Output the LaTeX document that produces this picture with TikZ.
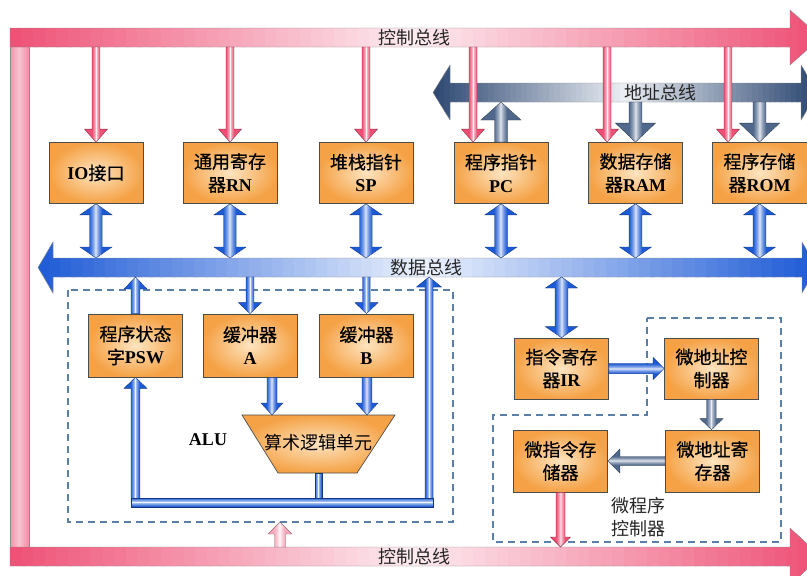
\documentclass[tikz,border=0pt]{standalone}
\usepackage{fontspec}
\setmainfont{Liberation Serif}
\newfontfamily\cjk{Noto Sans CJK SC}
\newfontfamily\cjkb[FakeBold=0.6]{Noto Sans CJK SC}
\usetikzlibrary{calc}
\definecolor{pinkD}{RGB}{238,79,116}
\definecolor{pinkL}{RGB}{253,236,241}
\definecolor{pinkM}{RGB}{246,170,188}
\definecolor{blueD}{RGB}{29,90,213}
\definecolor{blueL}{RGB}{236,242,253}
\definecolor{navyD}{RGB}{43,70,112}
\definecolor{navyM}{RGB}{80,104,140}
\definecolor{navyL}{RGB}{236,239,244}
\definecolor{boxO}{RGB}{245,162,70}
\definecolor{boxI}{RGB}{253,228,192}
\definecolor{dashC}{RGB}{91,127,166}
% local frame from #1 to #2
\newcommand\setframe[2]{%
  \path let \p1=($(#2)-(#1)$), \n1={veclen(\x1,\y1)}, \n2={atan2(\y1,\x1)} in
    \pgfextra{\xdef\arrlen{\n1}\xdef\arrang{\n2}};}
% strips across the local y axis: dark at |y|>=w, light at the centre
\newcommand\stripfill[4]{%
  \pgfmathtruncatemacro\nstr{2*#4+1}%
  \foreach \k in {0,...,\nstr}{%
    \pgfmathsetmacro\ya{-#4-1+\k}%
    \pgfmathsetmacro\tm{min(100,(min(1,abs(\ya+0.5)/#3))^0.7*100)}%
    \fill[#1!\tm!#2] (-1pt,{\ya*1pt}) rectangle ({\arrlen+1pt},{(\ya+1.3)*1pt});
  }}
% single-headed block arrow {dark}{light}{from}{to}{shaft half width}{head half width}{head length}
\newcommand\fatarrow[7]{%
  \setframe{#3}{#4}%
  \begin{scope}[shift={(#3)}, rotate=\arrang]
    \begin{scope}
      \clip (0pt,-#5pt) -- ({\arrlen-#7pt},-#5pt) -- ({\arrlen-#7pt},-#6pt) -- ({\arrlen+0pt},0pt)
        -- ({\arrlen-#7pt},#6pt) -- ({\arrlen-#7pt},#5pt) -- (0pt,#5pt) -- cycle;
      \stripfill{#1}{#2}{#5}{#6}
    \end{scope}
    \draw[#1!60!black, line width=0.4pt, line join=miter] (0pt,-#5pt) -- ({\arrlen-#7pt},-#5pt) -- ({\arrlen-#7pt},-#6pt) -- ({\arrlen+0pt},0pt)
        -- ({\arrlen-#7pt},#6pt) -- ({\arrlen-#7pt},#5pt) -- (0pt,#5pt) -- cycle;
  \end{scope}}
% double-headed block arrow
\newcommand\fatdarrow[7]{%
  \setframe{#3}{#4}%
  \begin{scope}[shift={(#3)}, rotate=\arrang]
    \begin{scope}
      \clip (0pt,0pt) -- (#7pt,-#6pt) -- (#7pt,-#5pt) -- ({\arrlen-#7pt},-#5pt) -- ({\arrlen-#7pt},-#6pt) -- ({\arrlen+0pt},0pt)
        -- ({\arrlen-#7pt},#6pt) -- ({\arrlen-#7pt},#5pt) -- (#7pt,#5pt) -- (#7pt,#6pt) -- cycle;
      \stripfill{#1}{#2}{#5}{#6}
    \end{scope}
    \draw[#1!60!black, line width=0.4pt] (0pt,0pt) -- (#7pt,-#6pt) -- (#7pt,-#5pt) -- ({\arrlen-#7pt},-#5pt) -- ({\arrlen-#7pt},-#6pt) -- ({\arrlen+0pt},0pt)
        -- ({\arrlen-#7pt},#6pt) -- ({\arrlen-#7pt},#5pt) -- (#7pt,#5pt) -- (#7pt,#6pt) -- cycle;
  \end{scope}}
% bar without heads
\newcommand\gradbar[5]{%
  \setframe{#3}{#4}%
  \begin{scope}[shift={(#3)}, rotate=\arrang]
    \begin{scope}
      \clip (0pt,-#5pt) rectangle ({\arrlen+0pt},#5pt);
      \stripfill{#1}{#2}{#5}{#5}
    \end{scope}
    \draw[#1!60!black, line width=0.4pt] (0pt,-#5pt) rectangle ({\arrlen+0pt},#5pt);
  \end{scope}}
% strips along x, light at the centre of [x0,x1]
\newcommand\hstrips[6]{%
  \pgfmathsetmacro\hc{(#3+#4)/2}\pgfmathsetmacro\hh{(#4-#3)/2}\pgfmathsetmacro\hstep{(#4-#3)/70}%
  \foreach \k in {0,...,69}{%
    \pgfmathsetmacro\xa{#3+\k*\hstep}%
    \pgfmathsetmacro\xb{#3+(\k+1.4)*\hstep}%
    \pgfmathsetmacro\tm{min(100,abs((\xa+\xb)/2-\hc)/\hh*100)}%
    \fill[#1!\tm!#2] (\xa,#5) rectangle (\xb,#6);
  }}
% a bus: {dark}{light}{x0}{x1}{y0}{y1}{polygon}
\newcommand\busshape[7]{%
  \begin{scope}
    \clip #7;
    \hstrips{#1}{#2}{#3}{#4}{#5}{#6}
  \end{scope}
  \draw[black!45, line width=0.4pt] #7;}
\begin{document}
\begin{tikzpicture}[x=1pt,y=-1pt,
  box/.style={draw=black!70, line width=0.7pt, inner color=boxI, outer color=boxO,
    minimum width=94pt, minimum height=61pt, inner sep=0pt, align=center,
    font=\fontsize{18}{23}\selectfont, text=black},
  buslbl/.style={font=\cjk\fontsize{18}{20}\selectfont, text=black!85, inner sep=0pt},
  region/.style={draw=dashC, line width=1.1pt, dash pattern=on 7pt off 5pt}]
\useasboundingbox (0,0) rectangle (807,576);
\clip (0,0) rectangle (807,576);

% bus levels
\coordinate (ctopB) at (0,47);
\coordinate (abusB) at (0,102);
\coordinate (dbusT) at (0,258);
\coordinate (dbusB) at (0,277);
\coordinate (cbotT) at (0,547);
\coordinate (aluTop) at (0,415);

% control bus
\busshape{pinkD}{pinkM!60!pinkL}{10}{29}{46}{548}{(10,46) rectangle (29,548)}
\busshape{pinkD}{pinkL}{10}{821}{10}{65}{(10,28) -- (790,28) -- (790,10) -- (821,37.5) -- (790,65) -- (790,47) -- (10,47) -- cycle}
\busshape{pinkD}{pinkL}{10}{821}{528}{585}{(10,547) -- (790,547) -- (790,528) -- (821,556.5) -- (790,585) -- (790,566) -- (10,566) -- cycle}
% address bus
\busshape{navyD}{navyL}{433}{818}{65}{120}{(433,92.5) -- (450,65) -- (450,83) -- (801,83) -- (801,65) -- (818,92.5) -- (801,120) -- (801,102) -- (450,102) -- (450,120) -- cycle}
% data bus
\busshape{blueD}{blueL}{38}{817}{242}{293}{(38,267.5) -- (53,242) -- (53,258) -- (802,258) -- (802,242) -- (817,267.5) -- (802,293) -- (802,277) -- (53,277) -- (53,293) -- cycle}

% dashed regions
\draw[region] (68,290) rectangle (453,522);
\draw[region] (647,318) -- (781,318) -- (781,542) -- (493,542) -- (493,415) -- (647,415) -- cycle;

% boxes
\node[box] (io)  at (96,173)   {\textbf{IO}{\cjkb 接口}};
\node[box] (rn)  at (230,173)  {{\cjkb 通用寄存}\\{\cjkb 器}\textbf{RN}};
\node[box] (sp)  at (366,173)  {{\cjkb 堆栈指针}\\\textbf{SP}};
\node[box] (pc)  at (501,173)  {{\cjkb 程序指针}\\\textbf{PC}};
\node[box] (ram) at (635.5,173) {{\cjkb 数据存储}\\{\cjkb 器}\textbf{RAM}};
\node[box, minimum width=95pt] (rom) at (759.5,173) {{\cjkb 程序存储}\\{\cjkb 器}\textbf{ROM}};
\node[box, minimum height=63pt] (psw) at (135.5,345.5) {{\cjkb 程序状态}\\{\cjkb 字}\textbf{PSW}};
\node[box, minimum height=63pt] (bufa) at (250,345.5) {{\cjkb 缓冲器}\\\textbf{A}};
\node[box, minimum height=63pt] (bufb) at (366.5,345.5) {{\cjkb 缓冲器}\\\textbf{B}};
\node[box] (ir)  at (561.5,368.5) {{\cjkb 指令寄存}\\{\cjkb 器}\textbf{IR}};
\node[box] (mac) at (711.5,368.5) {{\cjkb 微地址控}\\{\cjkb 制器}};
\node[box, minimum height=62pt] (mar) at (712.5,461) {{\cjkb 微地址寄}\\{\cjkb 存器}};
\node[box, minimum height=62pt] (mim) at (560.5,461) {{\cjkb 微指令存}\\{\cjkb 储器}};

% ALU trapezoid
\path[inner color=boxI, outer color=boxO, draw=black!70, line width=0.7pt]
  (242,415) -- (395,415) -- (357,473) -- (278,473) -- cycle;
\node[font=\cjk\fontsize{18}{20}\selectfont, inner sep=0pt] (alu) at (318,443) {算术逻辑单元};
\coordinate (aluBot) at (318.5,473);
\coordinate (aluInA) at (272,415);
\coordinate (aluInB) at (367,415);

% control arrows from top bus
\coordinate (pcK)  at ($(pc.north)+(-28,0)$);
\coordinate (ramK) at ($(ram.north)+(-28.5,0)$);
\coordinate (romK) at ($(rom.north)+(-31.5,0)$);
\fatarrow{pinkD}{pinkL}{io.north |- ctopB}{io.north}{4}{11.5}{13}
\fatarrow{pinkD}{pinkL}{rn.north |- ctopB}{rn.north}{4}{11.5}{13}
\fatarrow{pinkD}{pinkL}{sp.north |- ctopB}{sp.north}{4}{11.5}{13}
\fatarrow{pinkD}{pinkL}{pcK |- ctopB}{pcK}{4}{11.5}{13}
\fatarrow{pinkD}{pinkL}{ramK |- ctopB}{ramK}{4}{11.5}{13}
\fatarrow{pinkD}{pinkL}{romK |- ctopB}{romK}{4}{11.5}{13}

% address arrows
\fatarrow{navyM}{navyL}{pc.north}{pc.north |- abusB}{6.5}{20}{18}
\fatarrow{navyM}{navyL}{ram.north |- abusB}{ram.north}{6.5}{20}{19}
\fatarrow{navyM}{navyL}{rom.north |- abusB}{rom.north}{6.5}{20}{19}

% data bus arrows
\fatdarrow{blueD}{blueL}{io.south}{io.south |- dbusT}{6.5}{16}{11}
\fatdarrow{blueD}{blueL}{rn.south}{rn.south |- dbusT}{6.5}{16}{11}
\fatdarrow{blueD}{blueL}{sp.south}{sp.south |- dbusT}{6.5}{16}{11}
\fatdarrow{blueD}{blueL}{pc.south}{pc.south |- dbusT}{6.5}{16}{11}
\fatdarrow{blueD}{blueL}{ram.south}{ram.south |- dbusT}{6.5}{16}{11}
\fatdarrow{blueD}{blueL}{rom.south}{rom.south |- dbusT}{6.5}{16}{11}
\fatdarrow{blueD}{blueL}{ir.north |- dbusB}{ir.north}{6.5}{16}{11}

% ALU region arrows
\fatarrow{blueD}{blueL}{psw.north}{psw.north |- dbusB}{4.5}{11.5}{12}
\fatarrow{blueD}{blueL}{bufa.north |- dbusB}{bufa.north}{4}{11.5}{11}
\fatarrow{blueD}{blueL}{bufb.north |- dbusB}{bufb.north}{4}{11.5}{11}
\fatarrow{blueD}{blueL}{aluInA |- bufa.south}{aluInA}{5}{11}{12}
\fatarrow{blueD}{blueL}{aluInB |- bufb.south}{aluInB}{5}{11}{12}
\coordinate (railL) at (136,502.5);
\coordinate (railR) at (429,502.5);
\coordinate (railL2) at (131.5,502.5);
\coordinate (railR2) at (433.5,502.5);
\fatarrow{blueD}{blueL}{psw.south |- railL}{psw.south}{4.5}{11.5}{11}
\fatarrow{blueD}{blueL}{railR}{railR |- dbusB}{4}{12.5}{10}
\gradbar{blueD}{blueL}{aluBot}{aluBot |- railL}{3.5}
\gradbar{blueD}{blueL}{railL2}{railR2}{4.5}

% control arrow into ALU region
\coordinate (aluK) at (280,522);
\fatarrow{pinkM}{white}{aluK |- cbotT}{aluK}{5.5}{12}{12}

% microprogram controller arrows
\fatarrow{blueD}{blueL}{ir.east}{mac.west}{5}{11}{11}
\fatarrow{navyM}{navyL}{mac.south}{mac.south |- mar.north}{5}{11.5}{11}
\fatarrow{navyM}{navyL}{mar.west}{mim.east}{4.5}{12}{12}
\fatarrow{pinkD}{pinkL}{mim.south}{mim.south |- cbotT}{4.5}{10}{10}

% labels
\node[buslbl] (lctop) at (414,38) {控制总线};
\node[buslbl] (lcbot) at (414,556.5) {控制总线};
\node[buslbl] (laddr) at (660,92.5) {地址总线};
\node[buslbl] (ldata) at (426,268) {数据总线};
\node[font=\bfseries\fontsize{18}{20}\selectfont, inner sep=0pt] (alulbl) at (208,440) {ALU};
\node[font=\cjk\fontsize{18}{23}\selectfont, align=center, inner sep=0pt, text=black!85] (mpc) at (638,517) {微程序\\控制器};
\end{tikzpicture}
\end{document}
